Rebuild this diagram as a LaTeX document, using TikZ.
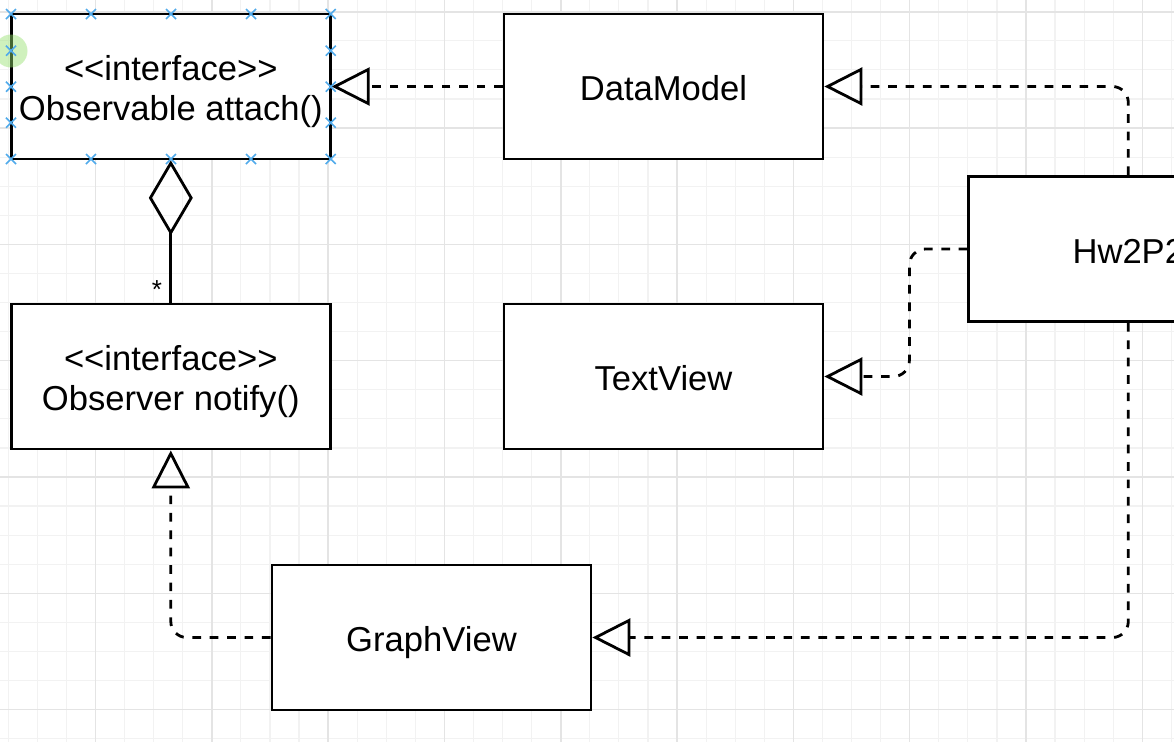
\documentclass[tikz,border=0pt]{standalone}
\usepackage{fontspec}
\newfontfamily\umlfont{Liberation Sans}
\usetikzlibrary{arrows.meta}
\definecolor{gridminor}{RGB}{242,242,242}
\definecolor{gridmajor}{RGB}{228,228,228}
\definecolor{selblue}{RGB}{80,170,235}
\definecolor{selgreen}{RGB}{150,225,110}

\tikzset{
    classbox/.style={draw, line width=2.8pt, fill=white, minimum width=319pt, minimum height=145pt, inner sep=0pt, text height=31pt, text depth=3pt, align=center, font=\umlfont\fontsize{34.6}{40}\selectfont},
    ifacebox/.style={classbox, text height=71pt, text depth=3pt},
    realize/.style={line width=2.8pt, dash pattern=on 8.7pt off 8.7pt, rounded corners=16pt, -{Triangle[open,length=38pt,width=38pt]}},
    aggregate/.style={line width=2.8pt, {Diamond[open,length=75pt,width=44pt]}-},
    minorline/.style={draw=gridminor, line width=1.2pt},
    majorline/.style={draw=gridmajor, line width=1.6pt},
    selmark/.style={draw=selblue, line width=1.6pt}
}

\begin{document}
\begin{tikzpicture}[x=1pt,y=-1pt]
            \useasboundingbox (0,0) rectangle (1174,742);
            \clip (0,0) rectangle (1174,742);
            \fill[white] (0,0) rectangle (1174,742);
            \foreach \k in {0,...,40}
                \draw[minorline] ({8.2+29.08*\k},0) -- ({8.2+29.08*\k},742);
            \foreach \k in {0,...,25}
                \draw[minorline] (0,{11.7+29.08*\k}) -- (1174,{11.7+29.08*\k});
            \foreach \k in {3,7,...,39}
                \draw[majorline] ({8.2+29.08*\k},0) -- ({8.2+29.08*\k},742);
            \foreach \k in {0,4,...,24}
                \draw[majorline] (0,{11.7+29.08*\k}) -- (1174,{11.7+29.08*\k});

            \node[ifacebox] (observable) at (170.8,86.5) {<<interface>>\\Observable attach()};
            \node[classbox] (datamodel) at (663.5,86.5) {DataModel};
            \node[classbox] (hw) at (1128.3,249) {Hw2P2};
            \node[ifacebox] (observer) at (170.8,376.5) {<<interface>>\\Observer notify()};
            \node[classbox] (textview) at (663.5,376.5) {TextView};
            \node[classbox] (graphview) at (431.5,637.5) {GraphView};

            \draw[realize] (datamodel.west) -- (observable.east);
            \draw[realize] (hw.north) |- (datamodel.east);
            \draw[realize] (hw.west) -- ++(-58,0) |- (textview.east);
            \draw[realize] (hw.south) |- (graphview.east);
            \draw[realize] (graphview.west) -| (observer.south);
            \draw[aggregate] (observable.south) -- (observer.north) node[pos=0.91, left=4pt, font=\umlfont\fontsize{26}{30}\selectfont] (many) {*};

            \fill[selgreen, opacity=0.45] (11,51) circle (16.5);
            \foreach \p in {(11,14),(91,14),(171,14),(251,14),(330.7,14),(11,159),(91,159),(171,159),(251,159),(330.7,159),(11,50.7),(11,86.7),(11,122.7),(330.7,50.7),(330.7,86.7),(330.7,122.7)}
                \draw[selmark] \p ++(-5,-5) -- ++(10,10) ++(-10,0) -- ++(10,-10);
        \end{tikzpicture}
\end{document}
